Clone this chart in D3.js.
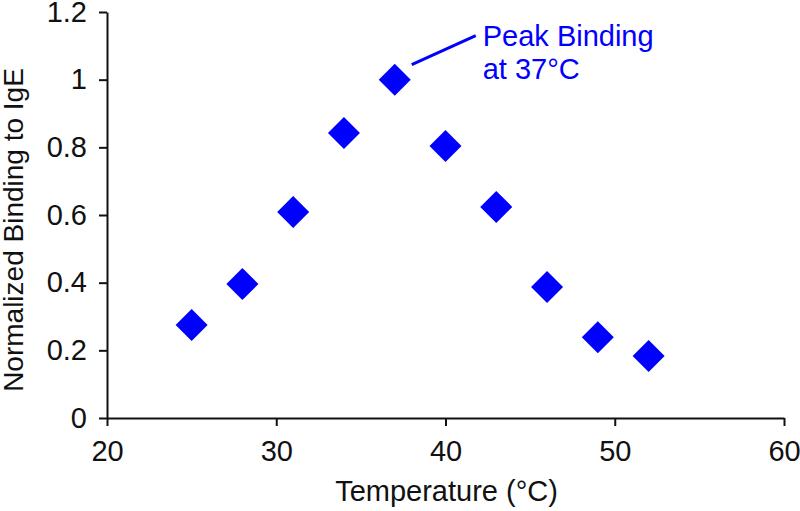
<!DOCTYPE html>
<html lang="en">
<head>
  <meta charset="UTF-8">
  <title>Normalized Binding to IgE vs Temperature</title>
  <style>
    * { margin: 0; padding: 0; box-sizing: border-box; }
    body { background: white; font-family: Arial, "Liberation Sans", sans-serif; }
    #chart { display: block; }
    .axis path, .axis line { stroke: #111; stroke-width: 2px; }
    .axis text { font-family: Arial, "Liberation Sans", sans-serif; font-size: 29px; fill: #111; }
    .title { font-family: Arial, "Liberation Sans", sans-serif; font-size: 29px; fill: #111; }
    .note { font-family: Arial, "Liberation Sans", sans-serif; font-size: 29px; fill: #0000ff; }
  </style>
  <script src="https://cdnjs.cloudflare.com/ajax/libs/d3/7.8.5/d3.min.js"></script>
</head>
<body>
  <svg id="chart"></svg>
  <script>
    // data
    const temperatures = [25, 28, 31, 34, 37, 40, 43, 46, 49, 52];
    const binding = [0.275, 0.396, 0.609, 0.842, 1.0, 0.804, 0.624, 0.387, 0.239, 0.183];
    const xTicks = [20, 30, 40, 50, 60];
    const yTicks = [0, 0.2, 0.4, 0.6, 0.8, 1, 1.2];
    const noteLines = ['Peak Binding', 'at 37°C'];
    const peakTemp = 37;

    const width = 800;
    const height = 511;
    const margin = { top: 12, right: 16, bottom: 93, left: 107 };

    const svg = d3.select('#chart')
      .attr('width', width)
      .attr('height', height);

    const x = d3.scaleLinear()
      .domain([20, 60])
      .range([margin.left, width - margin.right]);

    const y = d3.scaleLinear()
      .domain([0, 1.2])
      .range([height - margin.bottom, margin.top]);

    // x axis
    const xAxis = svg.append('g')
      .attr('class', 'axis')
      .attr('transform', `translate(0,${height - margin.bottom})`)
      .call(d3.axisBottom(x).tickValues(xTicks).tickSize(8).tickSizeOuter(0).tickPadding(14));
    xAxis.selectAll('text').attr('dy', '0.71em');

    // y axis
    svg.append('g')
      .attr('class', 'axis')
      .attr('transform', `translate(${margin.left},0)`)
      .call(d3.axisLeft(y).tickValues(yTicks).tickSize(8).tickSizeOuter(0).tickPadding(12)
        .tickFormat(d => String(+d.toFixed(1))));

    // axis titles
    svg.append('text')
      .attr('class', 'title')
      .attr('x', (margin.left + width - margin.right) / 2 + 1)
      .attr('y', 501)
      .attr('text-anchor', 'middle')
      .text('Temperature (°C)');

    svg.append('text')
      .attr('class', 'title')
      .attr('transform', 'translate(23,230) rotate(-90)')
      .attr('text-anchor', 'middle')
      .style('font-size', '28px')
      .text('Normalized Binding to IgE');

    // points
    const points = temperatures.map((t, i) => ({ t, v: binding[i] }));
    const diamond = d3.symbol().type(d3.symbolSquare).size(512);

    svg.append('g')
      .selectAll('path')
      .data(points)
      .enter()
      .append('path')
      .attr('d', diamond)
      .attr('transform', d => `translate(${x(d.t)},${y(d.v)}) rotate(45)`)
      .attr('fill', '#0000ff');

    // annotation for the peak
    const peak = points.find(d => d.t === peakTemp);
    const px = x(peak.t);
    const py = y(peak.v);

    svg.append('line')
      .attr('x1', px + 17)
      .attr('y1', py - 15)
      .attr('x2', px + 81)
      .attr('y2', py - 44)
      .attr('stroke', '#0000ff')
      .attr('stroke-width', 3);

    svg.append('g')
      .selectAll('text')
      .data(noteLines)
      .enter()
      .append('text')
      .attr('class', 'note')
      .attr('x', px + 88)
      .attr('y', (d, i) => py - 34 + i * 33)
      .text(d => d);
  </script>
</body>
</html>
